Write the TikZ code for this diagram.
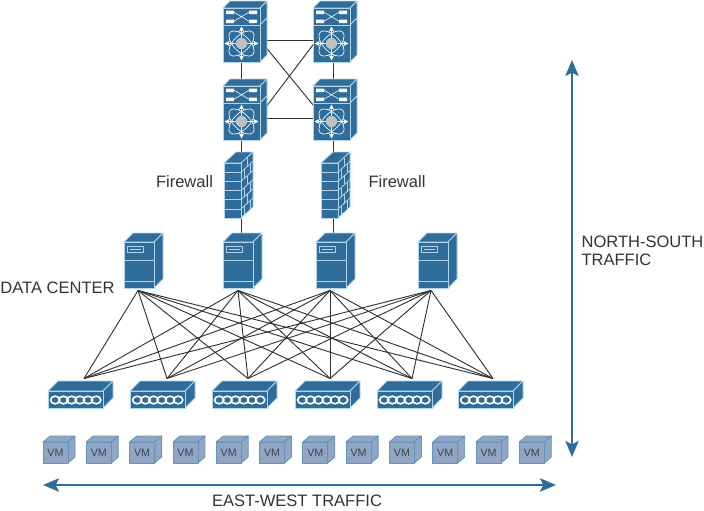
\documentclass[tikz,border=0pt]{standalone}
\usepackage{fontspec}
\setmainfont{Liberation Sans}
\usetikzlibrary{arrows.meta}

\definecolor{devblue}{RGB}{47,108,153}
\definecolor{devedge}{RGB}{176,212,232}
\definecolor{vmblue}{RGB}{143,166,196}
\definecolor{vmedge}{RGB}{104,146,186}
\definecolor{vmtext}{RGB}{62,66,74}
\definecolor{linkgrey}{RGB}{50,50,50}
\definecolor{hubgrey}{RGB}{190,192,194}

\tikzset{every picture/.style={line width=0.75pt}}
\tikzset{
  every pic/.style={yscale=-1},
  devface/.style={fill=devblue,draw=devedge,line width=0.6pt,line join=round},
  devline/.style={draw=devedge,line width=0.6pt},
  vmface/.style={fill=vmblue,draw=vmedge,line width=0.6pt,line join=round},
  link/.style={draw=linkgrey,line width=0.7pt},
  span/.style={draw=devblue,line width=1.5pt,{Stealth[length=12pt,width=10pt,inset=2.5pt]}-{Stealth[length=12pt,width=10pt,inset=2.5pt]}},
  label/.style={font=\fontsize{12.4}{13.5}\selectfont,text=black!80,inner sep=0pt,align=left},
  corebox/.style={minimum width=27.75pt,minimum height=27.75pt,inner sep=0pt},
  wallbox/.style={minimum width=12.75pt,minimum height=41.25pt,inner sep=0pt},
  srvbox/.style={minimum width=22.5pt,minimum height=36pt,inner sep=0pt},
  leafbox/.style={minimum width=45pt,minimum height=21.75pt,inner sep=0pt},
  pics/nexus/.style={code={
    \draw[devface] (0,0) -- (7,-7) -- (44,-7) -- (37,0) -- cycle;
    \draw[devface] (37,0) -- (44,-7) -- (44,10) -- (37,17) -- cycle;
    \draw[devface] (37,17) -- (44,10) -- (44,47) -- (37,54) -- cycle;
    \draw[devface] (0,0) rectangle (37,17);
    \draw[devface] (0,17) rectangle (37,54);
    \fill[white] (3,2.5) rectangle (11,6) (3,11.5) rectangle (11,15) (26,2.5) rectangle (34,6) (26,11.5) rectangle (34,15);
    \draw[white,line width=0.4pt] (11,4.2) -- (26,13.2) (11,13.2) -- (26,4.2);
    \draw[devline,white,line width=0.5pt,rotate around={45:(18.5,35.5)}] (18.5,35.5) ellipse (16 and 8);
    \draw[devline,white,line width=0.5pt,rotate around={-45:(18.5,35.5)}] (18.5,35.5) ellipse (16 and 8);
    \draw[white,line width=0.9pt,{Stealth[length=4pt,width=4pt]}-{Stealth[length=4pt,width=4pt]}] (1.5,35.5) -- (35.5,35.5);
    \draw[white,line width=0.9pt,{Stealth[length=4pt,width=4pt]}-{Stealth[length=4pt,width=4pt]}] (18.5,18.5) -- (18.5,52.5);
    \fill[hubgrey] (18.5,35.5) circle (5.7);
  }},
  pics/wall/.style={code={
    \draw[devface] (0,0) -- (12,-11) -- (29,-11) -- (17,0) -- cycle;
    \draw[devface] (17,0) -- (29,-11) -- (29,44) -- (17,55) -- cycle;
    \draw[devface] (0,0) rectangle (17,55);
    \foreach \r in {1,...,5} {
      \draw[devline] (0,9.2*\r) -- (17,9.2*\r);
      \draw[devline] (17,9.2*\r) -- (29,9.2*\r-11);
    }
    \foreach \r in {0,2,4} \draw[devline] (23,9.2*\r-5.5) -- (23,9.2*\r+3.7);
    \foreach \r in {1,3,5} {
      \draw[devline] (20,9.2*\r-2.8) -- (20,9.2*\r+6.4);
      \draw[devline] (26,9.2*\r-8.2) -- (26,9.2*\r+1);
    }
  }},
  pics/server/.style={code={
    \draw[devface] (0,0) -- (9,-9) -- (39,-9) -- (30,0) -- cycle;
    \draw[devface] (30,0) -- (39,-9) -- (39,37) -- (30,46) -- cycle;
    \draw[devface] (0,0) rectangle (30,46);
    \draw[devline] (0,18) -- (30,18) (0,39) -- (30,39);
    \draw[devline] (3.5,4) rectangle (19.5,10.5);
    \draw[devline] (6,7.2) -- (17,7.2);
  }},
  pics/leaf/.style={code={
    \draw[devface] (0,0) -- (10,-10) -- (65,-10) -- (55,0) -- cycle;
    \draw[devface] (55,0) -- (65,-10) -- (65,7) -- (55,17) -- cycle;
    \draw[devface] (0,0) rectangle (55,17);
    \foreach \c in {0,...,5} \draw[white,line width=1.2pt] (7.2+8.2*\c,9) ellipse (4.6 and 3.8);
  }},
  pics/vm/.style={code={
    \draw[vmface] (0,0) -- (7,-6) -- (32,-6) -- (25,0) -- cycle;
    \draw[vmface] (25,0) -- (32,-6) -- (32,15) -- (25,21) -- cycle;
    \draw[vmface] (0,0) rectangle (25,21);
    \node (-txt) at (12.5,11) [font=\fontsize{8}{9}\selectfont,text=vmtext,inner sep=0pt] {VM};
  }},
}

\begin{document}
\begin{tikzpicture}[x=0.75pt,y=0.75pt,yscale=-1,xscale=1]
\useasboundingbox (0,0) rectangle (704,511);

% Device boxes
\node (coreA) at (241,43.5) [corebox] {};
\node (coreB) at (333,43.5) [corebox] {};
\node (coreC) at (241,121.5) [corebox] {};
\node (coreD) at (333,121.5) [corebox] {};
\node (wallA) at (232.5,190.5) [wallbox] {};
\node (wallB) at (329.5,190.5) [wallbox] {};
\node (srvA) at (138,266) [srvbox] {};
\node (srvB) at (238,266) [srvbox] {};
\node (srvC) at (330,266) [srvbox] {};
\node (srvD) at (431,266) [srvbox] {};
\node (leafA) at (84,393.5) [leafbox] {};
\node (leafB) at (167,393.5) [leafbox] {};
\node (leafC) at (248,393.5) [leafbox] {};
\node (leafD) at (330,393.5) [leafbox] {};
\node (leafE) at (412,393.5) [leafbox] {};
\node (leafF) at (493,393.5) [leafbox] {};

% Links
\draw [link] (coreA.10) -- (coreB.170);
\draw [link] (coreC.10) -- (coreD.170);
\draw [link] (coreA.10) -- (coreD.141);
\draw [link] (coreB.west) -- (coreC.19);
\draw [link] (coreA.south) -- (coreC.north);
\draw [link] (coreB.south) -- (coreD.north);
\draw [link] (coreC.south) -- (coreC.south |- wallA.north);
\draw [link] (coreD.south) -- (coreD.south |- wallB.north);
\draw [link] (coreC.south |- wallA.south) -- (coreC.south |- srvB.north);
\draw [link] (coreD.south |- wallB.south) -- (coreD.south |- srvC.north);
\foreach \s in {srvA,srvB,srvC,srvD}
  \foreach \l in {leafA,leafB,leafC,leafD,leafE,leafF}
    \draw [link] (\s.south) -- (\l.north);

% Devices
\pic (picA) at (223,8) {nexus};
\pic (picB) at (313,8) {nexus};
\pic (picC) at (223,86) {nexus};
\pic (picD) at (313,86) {nexus};
\pic (fwA) at (224,163) {wall};
\pic (fwB) at (321,163) {wall};
\foreach \n/\x in {A/124,B/223,C/316,D/418}
  \pic (box\n) at (\x,242) {server};
\foreach \n/\x in {A/48,B/130,C/212,D/295,E/377,F/458}
  \pic (sw\n) at (\x,391) {leaf};
\foreach \i in {0,...,11}
  \pic (vm\i) at ({43+43.3*\i},442) {vm};

% Arrows
\coordinate (nsTop) at (572,60);
\coordinate (nsBot) at (572,457);
\coordinate (ewLeft) at (43,485);
\coordinate (ewRight) at (556,485);
\draw [span] (nsTop) -- (nsBot);
\draw [span] (ewLeft) -- (ewRight);

% Text Node
\node (fwLabelA) at (184.5,182) [label] {Firewall};
% Text Node
\node (fwLabelB) at (397,181.5) [label] {Firewall};
% Text Node
\node (dcLabel) at (57.5,288) [label] {DATA CENTER};
% Text Node
\node (nsLabel) at (642.5,251) [label] {NORTH-SOUTH\\TRAFFIC};
% Text Node
\node (ewLabel) at (297,501) [label] {EAST-WEST TRAFFIC};

\end{tikzpicture}
\end{document}
